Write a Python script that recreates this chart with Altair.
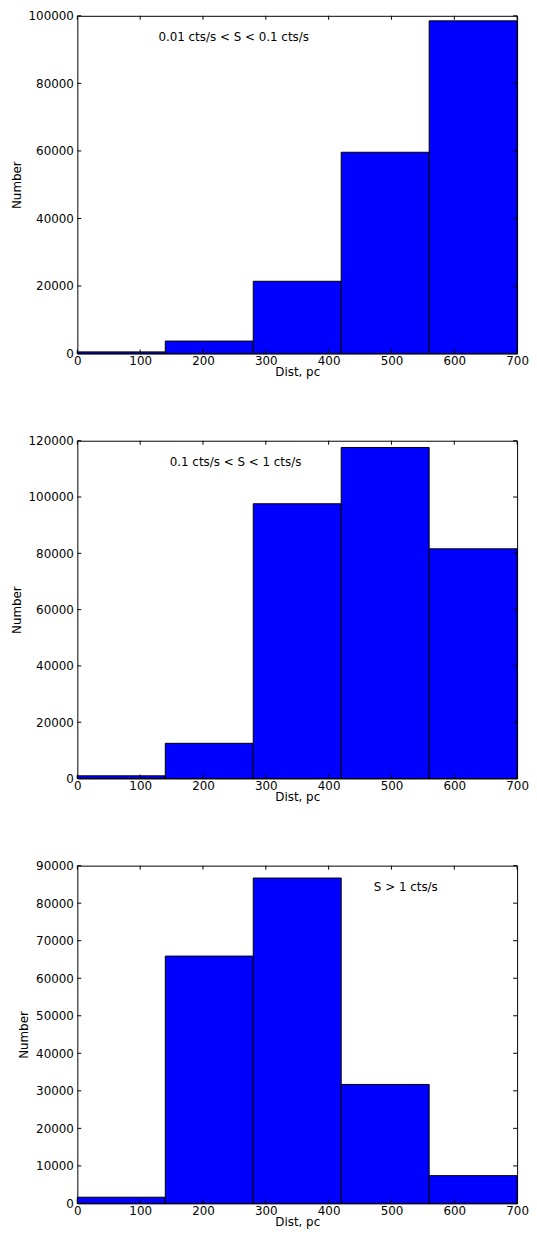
import altair as alt
import pandas as pd

bin_edges = [0, 140, 280, 420, 560, 700]
counts_1 = [500, 3700, 21400, 59600, 98500]
counts_2 = [940, 12500, 97600, 117600, 81600]
counts_3 = [1650, 65900, 86700, 31700, 7400]

labels = ["0.01 cts/s < S < 0.1 cts/s", "0.1 cts/s < S < 1 cts/s", "S > 1 cts/s"]
label_x = [129, 147, 472]
label_y = [93800, 112400, 84300]
y_max = [100000, 120000, 90000]
y_step = [20000, 20000, 10000]
x_ticks = [0, 100, 200, 300, 400, 500, 600, 700]

W, H = 444, 341
FONT = "DejaVu Sans"
TL = 4


def panel(counts, label, lx, ly, ymax, ystep):
    bars = pd.DataFrame({"x0": bin_edges[:-1], "x1": bin_edges[1:], "n": counts})
    yt = list(range(0, ymax + 1, ystep))
    xs = alt.Scale(domain=[0, 700], nice=False, zero=False)
    ys = alt.Scale(domain=[0, ymax], nice=False)
    xax = alt.Axis(values=x_ticks, title="Dist, pc", format="d", tickSize=0,
                   domain=False, grid=False, labelFlush=False, labelPadding=2,
                   titlePadding=0, labelOverlap=False)
    yax = alt.Axis(values=yt, title="Number", format="d", tickSize=0,
                   domain=False, grid=False, labelPadding=4, titlePadding=5,
                   labelOverlap=False)
    base_bars = alt.Chart(bars).mark_bar(
        color="#0000ff", stroke="black", strokeWidth=1
    ).encode(
        x=alt.X("x0:Q", scale=xs, axis=xax),
        x2="x1:Q",
        y=alt.Y("n:Q", scale=ys, axis=yax),
        y2=alt.datum(0),
    )
    xt = pd.DataFrame({"t": x_ticks})
    ytd = pd.DataFrame({"t": yt})
    tb = alt.Chart(xt).mark_rule(color="black").encode(
        x=alt.X("t:Q", scale=xs, axis=xax), y=alt.value(H), y2=alt.value(H - TL))
    tt = alt.Chart(xt).mark_rule(color="black").encode(
        x=alt.X("t:Q", scale=xs, axis=xax), y=alt.value(0), y2=alt.value(TL))
    tl = alt.Chart(ytd).mark_rule(color="black").encode(
        y=alt.Y("t:Q", scale=ys, axis=yax), x=alt.value(0), x2=alt.value(TL))
    tr = alt.Chart(ytd).mark_rule(color="black").encode(
        y=alt.Y("t:Q", scale=ys, axis=yax), x=alt.value(W), x2=alt.value(W - TL))
    txt = alt.Chart(pd.DataFrame({"x": [lx], "y": [ly], "s": [label]})).mark_text(
        align="left", baseline="middle", font=FONT, fontSize=12, color="black"
    ).encode(x=alt.X("x:Q", scale=xs, axis=xax),
             y=alt.Y("y:Q", scale=ys, axis=yax), text="s:N")
    return alt.layer(base_bars, tb, tt, tl, tr, txt).properties(width=W, height=H)


panels = [
    panel(c, l, lx, ly, m, s)
    for c, l, lx, ly, m, s in zip([counts_1, counts_2, counts_3], labels,
                                  label_x, label_y, y_max, y_step)
]

chart = alt.vconcat(*panels, spacing=56).properties(
    padding={"left": 1, "top": -5, "right": 0, "bottom": 0}
).configure_view(stroke="black", strokeWidth=1).configure_axis(
    labelFont=FONT, titleFont=FONT, labelFontSize=12, titleFontSize=12,
    labelColor="black", titleColor="black", titleFontWeight="normal"
)

chart.save("out.html", embed_options={"renderer": "svg", "actions": False})
